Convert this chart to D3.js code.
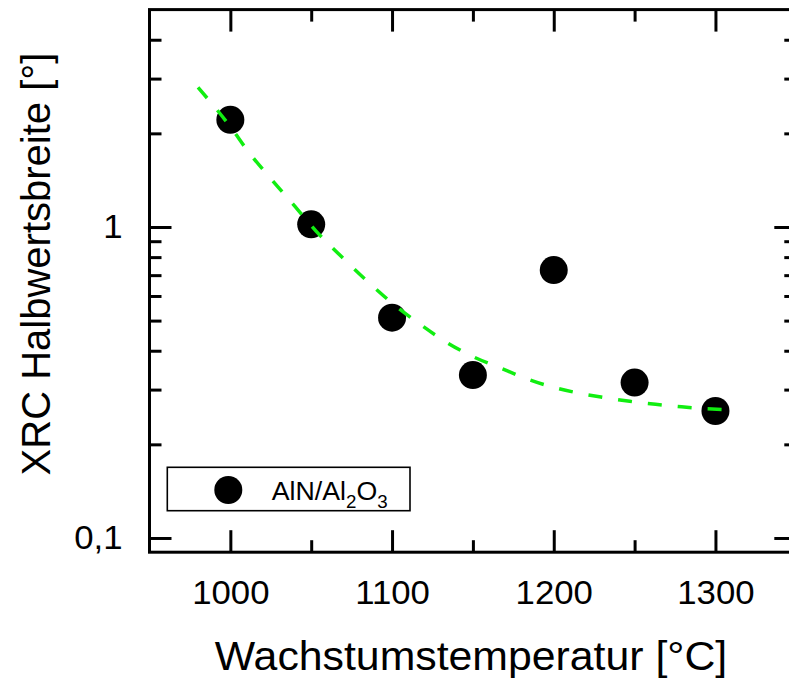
<!DOCTYPE html>
<html>
<head>
<meta charset="utf-8">
<script src="https://cdn.jsdelivr.net/npm/d3@7"></script>
<style>
  html, body { margin: 0; padding: 0; background: #fff; }
  svg { display: block; }
  text { font-family: "Liberation Sans", Arial, Helvetica, sans-serif; fill: #000; }
</style>
</head>
<body>
<svg id="chart" width="789" height="679"></svg>
<script>
// ---- data ----
const temperatures = [1000, 1050, 1100, 1150, 1200, 1250, 1300];
const fwhm = [2.21, 1.02, 0.511, 0.334, 0.727, 0.316, 0.256];

const fitTemps = [980, 1000, 1011, 1025, 1039, 1053, 1069, 1085, 1101, 1117, 1133, 1150, 1167, 1182, 1198, 1213, 1231, 1247, 1263, 1279, 1311];
const fitValues = [2.81, 2.10, 1.75, 1.43, 1.18, 0.97, 0.80, 0.667, 0.564, 0.488, 0.428, 0.383, 0.352, 0.327, 0.307, 0.294, 0.283, 0.275, 0.269, 0.264, 0.258];

const xMajorTicks = [1000, 1100, 1200, 1300];
const xMinorTicks = [1050, 1150, 1250];
const yMajorTicks = [0.1, 1];
const yMajorLabels = ["0,1", "1"];
const yMinorTicks = [0.2, 0.3, 0.4, 0.5, 0.6, 0.7, 0.8, 0.9, 2, 3, 4];

const xTitle = "Wachstumstemperatur [°C]";
const yTitle = "XRC Halbwertsbreite [°]";
const legendLabel = ["AlN/Al", "2", "O", "3"];

// ---- layout ----
const svg = d3.select("#chart");
const pLeft = 149.5, pRight = 796.3, pTop = 9.6, pBottom = 552.2;
const stretch = 1.07; // reference glyphs are slightly wider than tall

const x = d3.scaleLinear().domain([950, 1350]).range([pLeft, pRight]);
const y = d3.scaleLog().domain([0.09, 5]).range([pBottom, pTop]);

const tickFont = 32.5;
const axisStroke = 3;

function styleAxis(g) {
  g.selectAll("path.domain").remove();
  g.selectAll(".tick line").attr("stroke", "#000").attr("stroke-width", axisStroke);
  g.selectAll(".tick text").attr("font-size", tickFont)
    .attr("font-family", "'Liberation Sans', Arial, sans-serif").attr("fill", "#000");
}

// bottom axis
const gBottom = svg.append("g").attr("transform", `translate(0,${pBottom})`)
  .call(d3.axisBottom(x).tickValues(xMajorTicks).tickFormat(d3.format("d"))
    .tickSizeInner(-22).tickSizeOuter(0).tickPadding(29))
  .call(styleAxis);
gBottom.selectAll(".tick text").attr("transform", `scale(${stretch},1)`);
svg.append("g").attr("transform", `translate(0,${pBottom})`)
  .call(d3.axisBottom(x).tickValues(xMinorTicks).tickFormat("")
    .tickSizeInner(-12).tickSizeOuter(0))
  .call(styleAxis);

// top axis
svg.append("g").attr("transform", `translate(0,${pTop})`)
  .call(d3.axisTop(x).tickValues(xMajorTicks).tickFormat("")
    .tickSizeInner(-22).tickSizeOuter(0))
  .call(styleAxis);
svg.append("g").attr("transform", `translate(0,${pTop})`)
  .call(d3.axisTop(x).tickValues(xMinorTicks).tickFormat("")
    .tickSizeInner(-12).tickSizeOuter(0))
  .call(styleAxis);

// left axis
const gLeft = svg.append("g").attr("transform", `translate(${pLeft},0)`)
  .call(d3.axisLeft(y).tickValues(yMajorTicks)
    .tickFormat((d, i) => yMajorLabels[i])
    .tickSizeInner(-22).tickSizeOuter(0).tickPadding(27))
  .call(styleAxis);
gLeft.selectAll(".tick text").attr("x", 0)
  .attr("transform", `translate(-27,0) scale(${stretch},1)`);
svg.append("g").attr("transform", `translate(${pLeft},0)`)
  .call(d3.axisLeft(y).tickValues(yMinorTicks).tickFormat("")
    .tickSizeInner(-12).tickSizeOuter(0))
  .call(styleAxis);

// right axis
svg.append("g").attr("transform", `translate(${pRight},0)`)
  .call(d3.axisRight(y).tickValues(yMajorTicks).tickFormat("")
    .tickSizeInner(-22).tickSizeOuter(0))
  .call(styleAxis);
svg.append("g").attr("transform", `translate(${pRight},0)`)
  .call(d3.axisRight(y).tickValues(yMinorTicks).tickFormat("")
    .tickSizeInner(-12).tickSizeOuter(0))
  .call(styleAxis);

// frame
svg.append("rect")
  .attr("x", pLeft).attr("y", pTop)
  .attr("width", pRight - pLeft).attr("height", pBottom - pTop)
  .attr("fill", "none").attr("stroke", "#000").attr("stroke-width", axisStroke);

// data points
svg.append("g").selectAll("circle")
  .data(temperatures.map((t, i) => [t, fwhm[i]]))
  .join("circle")
  .attr("cx", d => x(d[0]))
  .attr("cy", d => y(d[1]))
  .attr("r", 14)
  .attr("fill", "#000");

// fit line
const line = d3.line()
  .x(d => x(d[0]))
  .y(d => y(d[1]))
  .curve(d3.curveMonotoneX);
svg.append("path")
  .datum(fitTemps.map((t, i) => [t, fitValues[i]]))
  .attr("d", line)
  .attr("fill", "none")
  .attr("stroke", "#11ee11")
  .attr("stroke-width", 3.5)
  .attr("stroke-dasharray", "14,16");

// legend
const lg = svg.append("g");
lg.append("rect")
  .attr("x", 167.3).attr("y", 467.3)
  .attr("width", 242.7).attr("height", 43.4)
  .attr("fill", "#fff").attr("stroke", "#000").attr("stroke-width", 1.6);
lg.append("circle").attr("cx", 228.3).attr("cy", 490).attr("r", 14).attr("fill", "#000");
const lt = lg.append("text")
  .attr("transform", `translate(271.7,500) scale(${stretch},1)`)
  .attr("font-size", 25);
lt.append("tspan").text(legendLabel[0]);
lt.append("tspan").attr("font-size", 17.5).attr("dy", 8).text(legendLabel[1]);
lt.append("tspan").attr("dy", -8).text(legendLabel[2]);
lt.append("tspan").attr("font-size", 17.5).attr("dy", 8).text(legendLabel[3]);

// axis titles
svg.append("text")
  .attr("transform", `translate(471,670) scale(${stretch},1)`)
  .attr("text-anchor", "middle")
  .attr("font-size", 40)
  .text(xTitle);

svg.append("text")
  .attr("transform", "translate(50,264) rotate(-90)")
  .attr("text-anchor", "middle")
  .attr("font-size", 40)
  .text(yTitle);
</script>
</body>
</html>
